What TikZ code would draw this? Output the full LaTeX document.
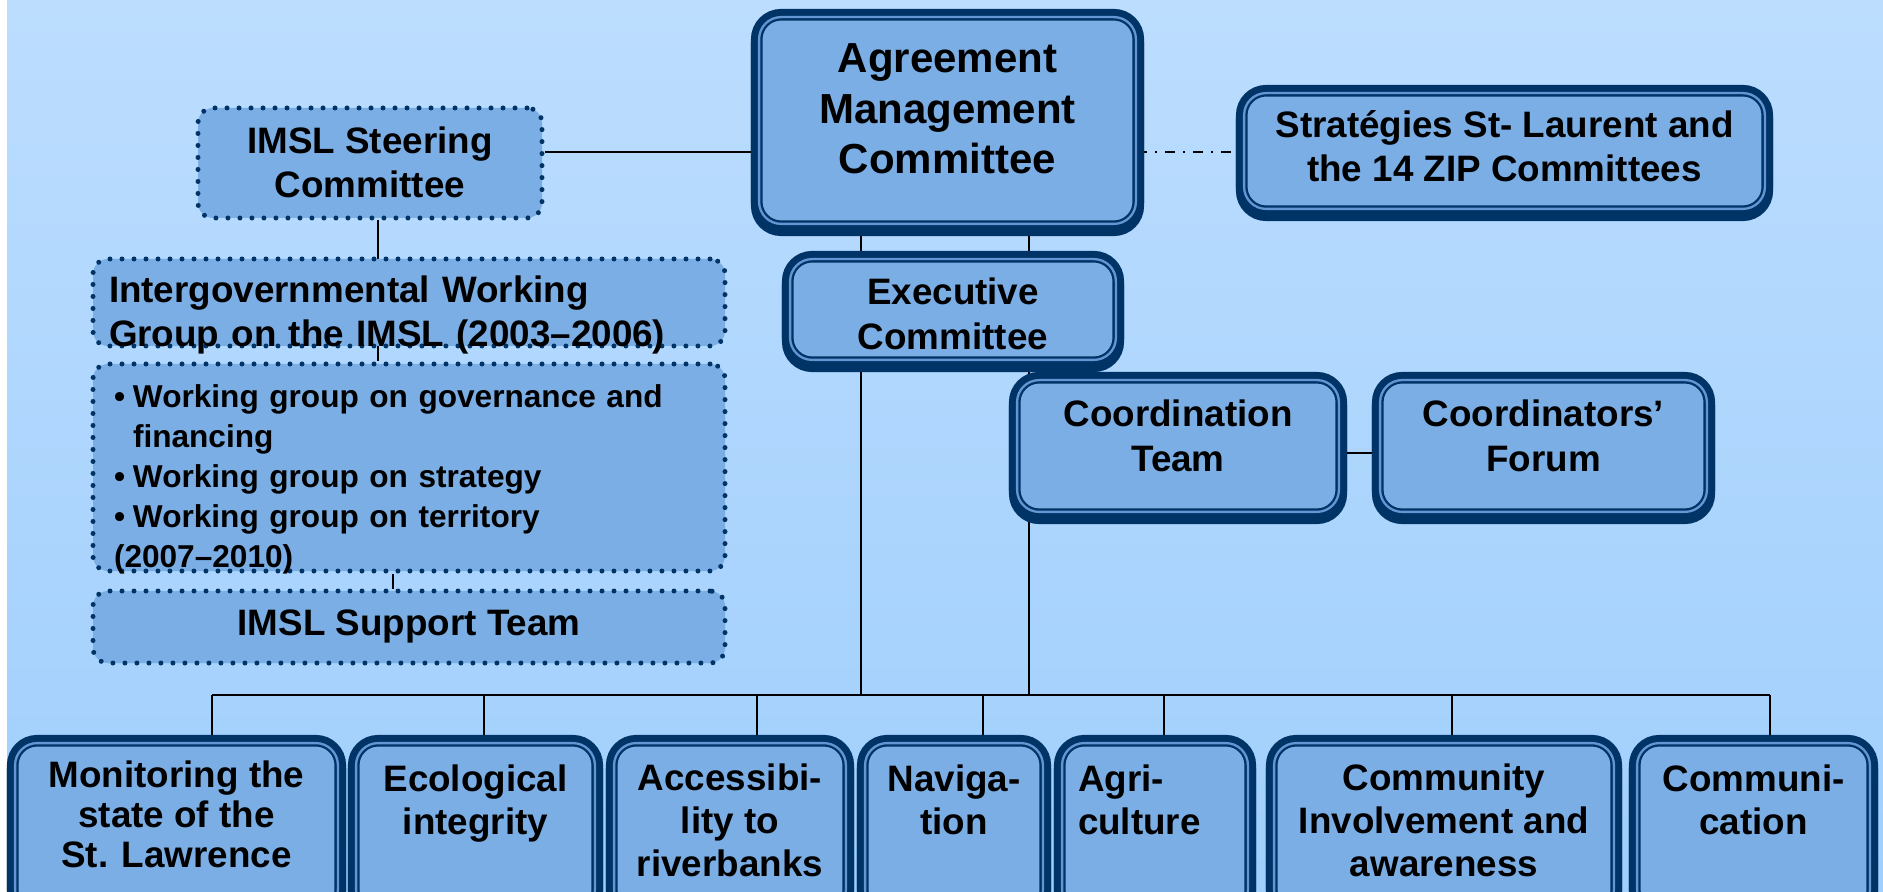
\documentclass[tikz,border=0pt]{standalone}
\usepackage{fontspec}
\setmainfont{Liberation Sans}
\usetikzlibrary{backgrounds}

\definecolor{navy}{RGB}{0,51,102}
\definecolor{boxfill}{RGB}{123,174,229}
\definecolor{rimline}{RGB}{100,150,212}
\definecolor{skytop}{RGB}{188,221,254}
\definecolor{skybot}{RGB}{160,207,253}

\tikzset{
  unit/.style={rectangle, rounded corners=11pt, inner sep=0pt, align=center,
    fill=boxfill, draw=navy, line width=1.15pt, double=rimline, double distance=1.15pt,
    preaction={draw=navy, line width=8.15pt, transform canvas={yshift=-2pt}},
    preaction={draw=navy, line width=8.15pt},
    font=\fontsize{18.4}{22.5}\selectfont\bfseries},
  group/.style={rectangle, rounded corners=7.5pt, inner sep=0pt, fill=boxfill,
    draw=navy, line width=2.5pt, line cap=round, dash pattern=on 0pt off 6pt,
    font=\fontsize{18.4}{22}\selectfont\bfseries},
  team/.style={unit, minimum height=84.4pt, text depth=0pt,
    font=\fontsize{18.4}{21.5}\selectfont\bfseries},
  link/.style={line width=1.4pt}
}
\newcommand{\wgitem}{\hspace*{2.5pt}\makebox[9.5pt][l]{\textbullet}}

\begin{document}
\begin{tikzpicture}[x=0.5pt,y=-0.5pt]
\useasboundingbox (0,0) rectangle (1883,892);

% top committees
\node[unit, minimum width=188.4pt, minimum height=103.4pt, text height=53.5pt, text depth=0pt,
  font=\fontsize{21}{25.25}\selectfont\bfseries] (amc) at (947.5,120.5) {Agreement\\Management\\Committee};
\node[unit, minimum width=260.4pt, minimum height=57.9pt, text height=31pt, text depth=0pt,
  font=\fontsize{18.4}{22}\selectfont\bfseries] (strat) at (1504.5,151) {Stratégies St- Laurent and\\the 14 ZIP Committees};
\node[unit, minimum width=162.9pt, minimum height=50.4pt, text height=40.5pt, text depth=0pt] (exec) at (953,309.5) {Executive\\Committee};
\node[unit, minimum width=160.9pt, minimum height=65.9pt, text height=26pt, text depth=0pt] (coord) at (1178,446) {Coordination\\Team};
\node[unit, minimum width=163.4pt, minimum height=65.9pt, text height=26pt, text depth=0pt] (forum) at (1543.5,446) {Coordinators’\\Forum};

% IMSL side (dotted)
\node[group, minimum width=172pt, minimum height=55pt, align=center, text height=35pt, text depth=0pt] (steer) at (370,163) {IMSL Steering\\Committee};
\node[group, minimum height=43.5pt, text width=300pt, inner xsep=8pt, align=left, text height=0pt, text depth=0pt] (igwg) at (409,302.5) {Intergovernmental Working\\Group on the IMSL (2003--2006)};
\node[group, minimum height=103.5pt, text width=300pt, inner xsep=8pt, align=left, text height=0pt, text depth=59.5pt,
  font=\fontsize{15.8}{20}\selectfont\bfseries] (wg) at (409,467.5) {\wgitem Working group on governance and\\\hspace*{12pt}financing\\\wgitem Working group on strategy\\\wgitem Working group on territory\\\hspace*{2.5pt}(2007--2010)};
\node[group, minimum width=316pt, minimum height=36pt, align=center, text height=8pt, text depth=0pt] (sup) at (409,627) {IMSL Support Team};

% priority teams
\node[team, minimum width=161.4pt, text height=39.5pt, font=\fontsize{18.4}{20}\selectfont\bfseries] (mon) at (176.5,827.5) {Monitoring the\\state of the\\St. Lawrence};
\node[team, minimum width=119.4pt, text height=6.5pt] (eco) at (475.5,827.5) {Ecological\\integrity};
\node[team, minimum width=115.9pt, text height=48.5pt] (acc) at (730,827.5) {Accessibi-\\lity to\\riverbanks};
\node[team, minimum width=88.9pt, text height=6.5pt] (nav) at (954,827.5) {Naviga-\\tion};
\node[team, minimum width=92.9pt, text width=77pt, align=left, text height=0pt, text depth=36.5pt] (agr) at (1155,827.5) {Agri-\\culture};
\node[team, minimum width=169.9pt, text height=48.5pt] (cmty) at (1444,827.5) {Community\\Involvement and\\awareness};
\node[team, minimum width=116.4pt, text height=6.5pt] (comm) at (1753.5,827.5) {Communi-\\cation};

\begin{scope}[on background layer]
  \fill[top color=skytop, bottom color=skybot] (0,0) rectangle (1883,892);
  \fill[white] (0,0) rectangle (7,892);
  % connectors
  \draw[link] ([yshift=5.5pt]steer.east) -- ([yshift=5.5pt]steer.east -| amc.west);
  \draw[line width=1pt, dash pattern=on 5pt off 4pt on 1pt off 4pt] ([yshift=5.5pt]steer.east -| amc.east) -- ([yshift=5.5pt]steer.east -| strat.west);
  \draw[link] ([xshift=4pt]steer.south) -- ([xshift=4pt]steer.south |- wg.north);
  \draw[link] ([xshift=-8pt]wg.south) -- ([xshift=-8pt]wg.south |- sup.north);
  \draw[link] ([yshift=-3.5pt]coord.east) -- ([yshift=-3.5pt]coord.east -| forum.west);
  % bus to the teams
  \coordinate (b1) at (212,695);
  \coordinate (b2) at (484,695);
  \coordinate (b3) at (757,695);
  \coordinate (b4) at (983,695);
  \coordinate (b5) at (1164,695);
  \coordinate (b6) at (1452,695);
  \coordinate (b7) at (1770,695);
  \coordinate (e1) at (861,695);
  \coordinate (e2) at (1029,695);
  \draw[link] (b1) -- (b7);
  \foreach \b/\t in {b1/mon, b2/eco, b3/acc, b4/nav, b5/agr, b6/cmty, b7/comm}
    \draw[link] (\b) -- (\b |- \t.north);
  \draw[link] (e1) -- (e1 |- amc.south);
  \draw[link] (e2) -- (e2 |- amc.south);
\end{scope}
\end{tikzpicture}
\end{document}
